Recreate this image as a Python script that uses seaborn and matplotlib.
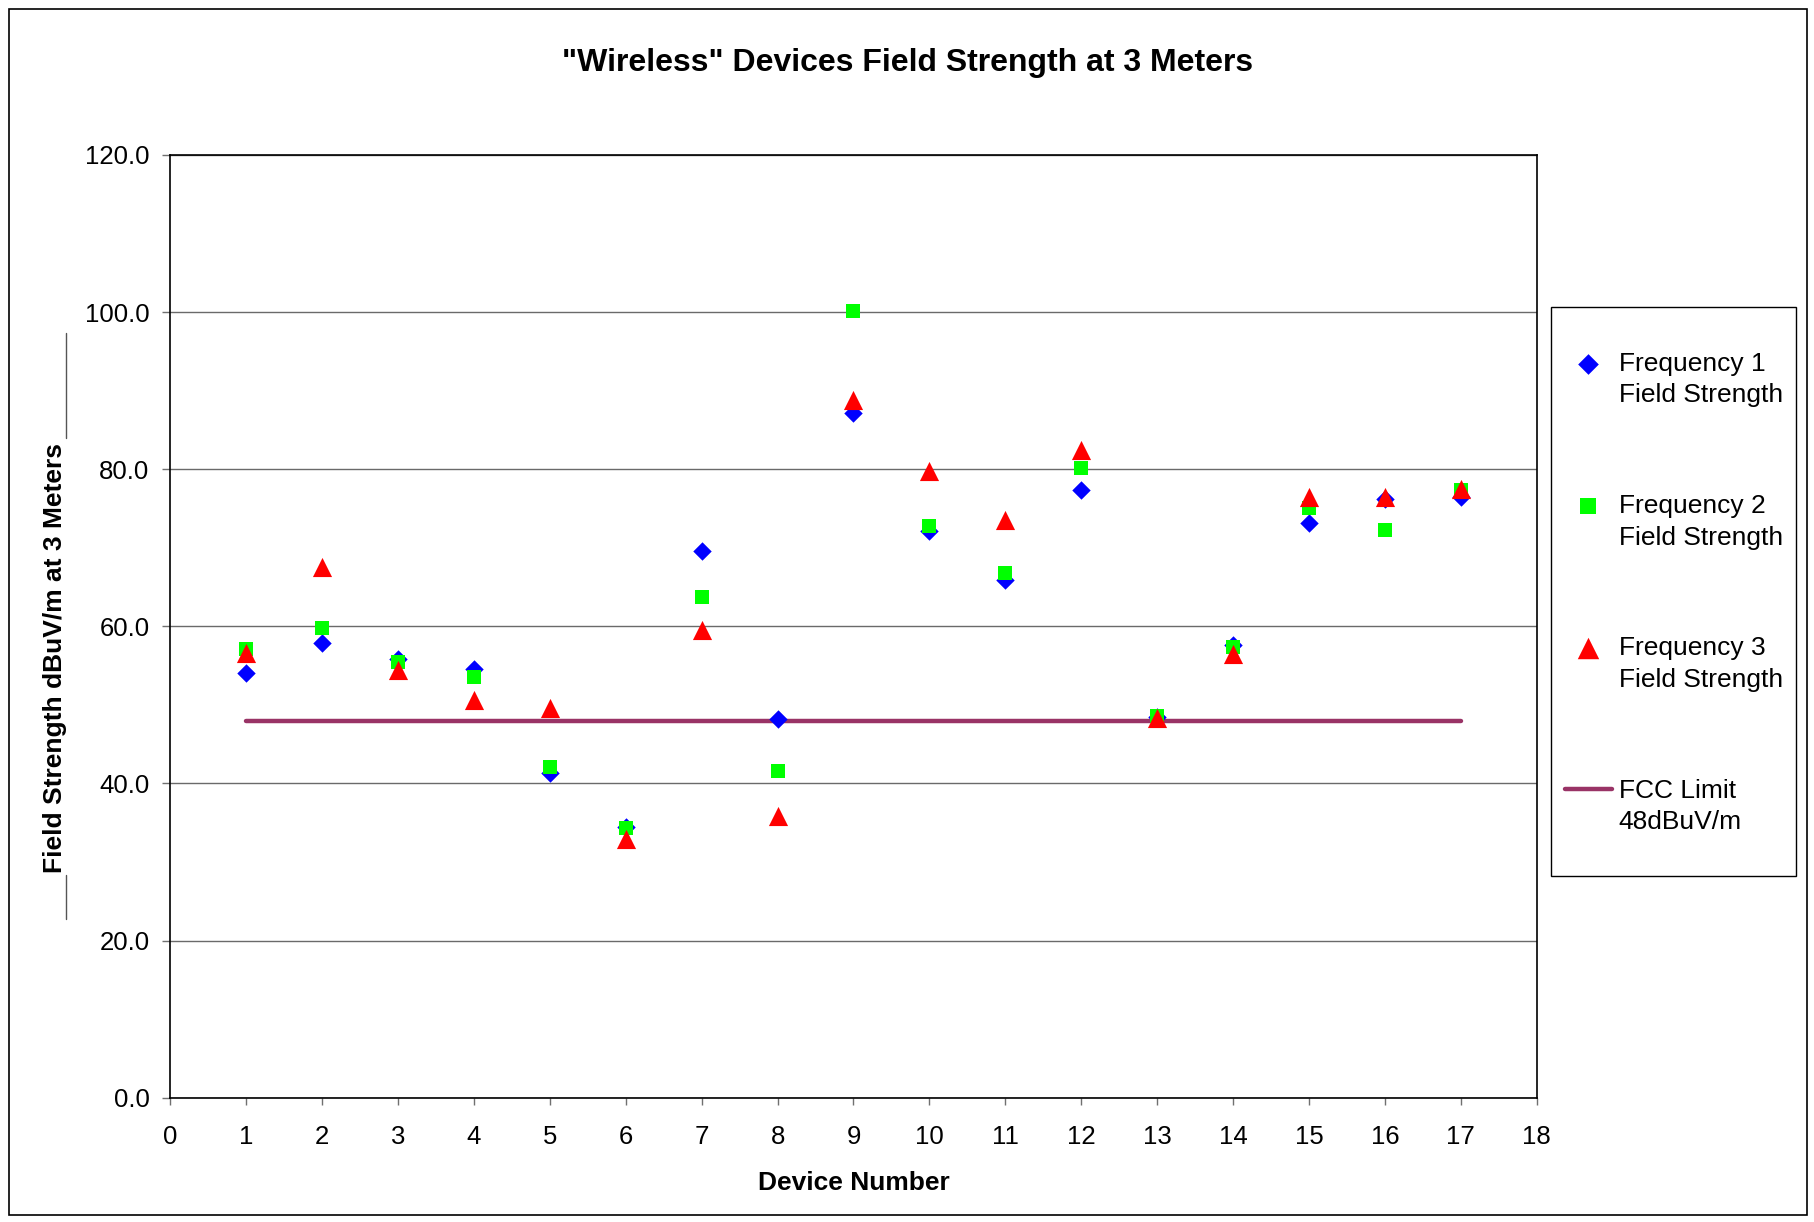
import matplotlib
matplotlib.use("Agg")
import matplotlib.pyplot as plt
from matplotlib.patches import Rectangle
from matplotlib.lines import Line2D
from matplotlib.ticker import FormatStrFormatter
import seaborn as sns

# Field strength readings (dBuV/m at 3 m) for each wireless device
devices = [1, 2, 3, 4, 5, 6, 7, 8, 9, 10, 11, 12, 13, 14, 15, 16, 17]
freq1 = [54.1, 57.9, 55.8, 54.6, 41.3, 34.5, 69.6, 48.2, 87.1, 72.2,
         65.9, 77.3, 48.4, 57.6, 73.2, 76.2, 76.5]
freq2 = [57.1, 59.8, 55.5, 53.6, 42.1, 34.3, 63.7, 41.6, 100.2, 72.8,
         66.8, 80.1, 48.6, 57.4, 75.1, 72.3, 77.4]
freq3 = [56.6, 67.5, 54.4, 50.6, 49.6, 32.9, 59.5, 35.9, 88.8, 79.8,
         73.6, 82.4, 48.3, 56.5, 76.5, 76.5, 77.5]
fcc_limit = 48.0

series_labels = ["Frequency 1\nField Strength", "Frequency 2\nField Strength",
                 "Frequency 3\nField Strength"]
limit_label = "FCC Limit\n48dBuV/m"
x_ticks = list(range(0, 19))
y_ticks = [0, 20, 40, 60, 80, 100, 120]

sns.set_style("white")
plt.rcParams["font.family"] = ["Liberation Sans", "DejaVu Sans"]
plt.rcParams["text.color"] = "black"
plt.rcParams["axes.labelcolor"] = "black"
plt.rcParams["xtick.color"] = "black"
plt.rcParams["ytick.color"] = "black"

W, H = 1815, 1222
fig = plt.figure(figsize=(W / 100, H / 100), dpi=100)
fig.patch.set_facecolor("white")


def fx(px):
    return px / W


def fy(py):
    return 1 - py / H


ax = fig.add_axes([fx(170.3), fy(1097.7), fx(1536.7) - fx(170.3), fy(155) - fy(1097.7)])

# FCC limit line under the markers
sns.lineplot(x=devices, y=[fcc_limit for _ in devices], ax=ax, color="#993366",
             linewidth=3.2, solid_capstyle="round", label=limit_label, zorder=2)

styles = [("D", "#0000FF", 88), ("s", "#00FF00", 105), ("^", "#FF0000", 190)]
for vals, lab, (mk, col, sz) in zip([freq1, freq2, freq3], series_labels, styles):
    sns.scatterplot(x=devices, y=vals, ax=ax, marker=mk, color=col, s=sz,
                    linewidth=0, label=lab, zorder=3)

ax.set_xlim(0, 18)
ax.set_ylim(0, 120)
ax.set_xticks(x_ticks)
ax.set_yticks(y_ticks)
ax.yaxis.set_major_formatter(FormatStrFormatter("%.1f"))
ax.grid(axis="y", color="#6a6a6a", linewidth=1.0, zorder=0)
ax.grid(axis="x", visible=False)
ax.set_axisbelow(True)
for sp in ax.spines.values():
    sp.set_visible(True)
    sp.set_color("black")
    sp.set_linewidth(1.2)
ax.tick_params(axis="y", direction="out", length=6, width=1, color="#707070",
               labelsize=18.5, pad=9, labelcolor="black", left=True)
ax.tick_params(axis="x", direction="out", length=5, width=1, color="#707070",
               labelsize=18.5, pad=15, labelcolor="black", bottom=True)

ax.set_xlabel("Device Number", fontsize=19, fontweight="bold", color="black")
ax.xaxis.set_label_coords(0.5, (1097.7 - 1183) / 942.7)
ax.xaxis.label.set_va("center")
ax.set_ylabel("Field Strength dBuV/m at 3 Meters", fontsize=19, fontweight="bold",
              color="black")
ax.yaxis.set_label_coords((55 - 170.3) / 1366.4, (1097.7 - 658) / 942.7)
ax.yaxis.label.set_va("center")
ax.yaxis.label.set_ha("center")

fig.suptitle('"Wireless" Devices Field Strength at 3 Meters', fontsize=23,
             fontweight="bold", color="black", x=0.5, y=fy(63.5), va="center")

# label frame strokes beside the y-axis title
for y0, y1 in [(333, 437.7), (875, 919)]:
    fig.add_artist(Line2D([fx(65.7), fx(65.7)], [fy(y0), fy(y1)],
                          transform=fig.transFigure, color="#555555", linewidth=1.0))

# Legend: scatter series first, then the limit line
handles, labels = ax.get_legend_handles_labels()
order = [1, 2, 3, 0]
if ax.get_legend() is not None:
    ax.get_legend().remove()
leg = fig.legend([handles[i] for i in order], [labels[i] for i in order],
                 loc="center left", bbox_to_anchor=(fx(1565), fy(593)),
                 frameon=False, fontsize=19, labelspacing=3.29, handlelength=1.78,
                 handleheight=1.0, handletextpad=0.25, borderpad=0,
                 borderaxespad=0, markerscale=1.12)
for t in leg.get_texts():
    t.set_linespacing(1.4)
    t.set_color("black")
# put each key beside the first line of its two-line label
for column in leg._legend_handle_box.get_children():
    for item in column.get_children():
        item.align = "top"

fig.add_artist(Rectangle((fx(1551), fy(876)), fx(1796) - fx(1551), fy(307) - fy(876),
                         transform=fig.transFigure, fill=False, edgecolor="black",
                         linewidth=1.0))
# outer chart border
fig.add_artist(Rectangle((fx(9), fy(1215)), fx(1807) - fx(9), fy(9) - fy(1215),
                         transform=fig.transFigure, fill=False, edgecolor="black",
                         linewidth=1.2))

fig.savefig("out.png", dpi=100, facecolor="white")
